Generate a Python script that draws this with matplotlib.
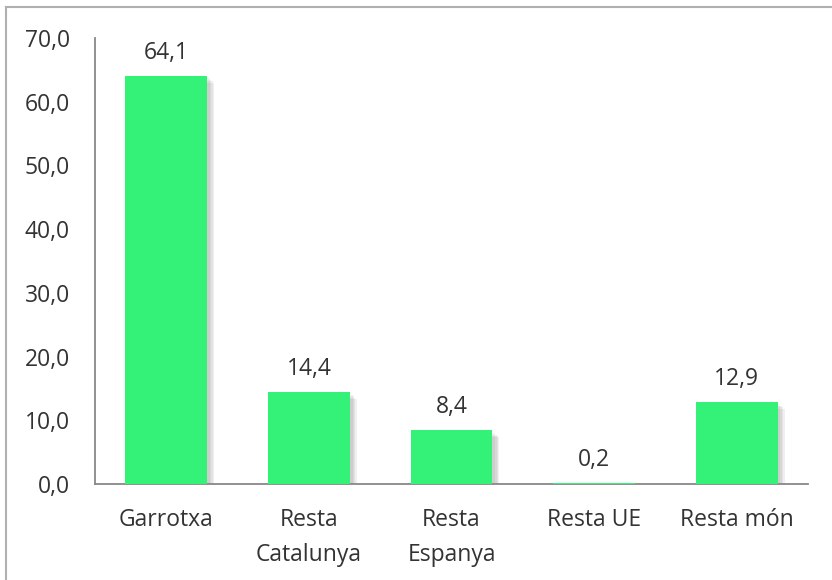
import matplotlib
matplotlib.use("Agg")
import matplotlib.pyplot as plt
from matplotlib.lines import Line2D
import matplotlib.patheffects as pe

categories = ["Garrotxa", "Resta\nCatalunya", "Resta\nEspanya", "Resta UE", "Resta món"]
values = [64.1, 14.4, 8.4, 0.2, 12.9]
yticks = [0, 10, 20, 30, 40, 50, 60, 70]

plt.rcParams['font.family'] = ['Open Sans', 'DejaVu Sans']
W, H = 832, 580
fig = plt.figure(figsize=(W/100, H/100), dpi=100)
ax = fig.add_axes([95/W, (H-484)/H, (808-95)/W, (484-38)/H])

FS = 16.5
x = list(range(len(categories)))
bars = ax.bar(x, values, width=0.575, color="#33F277", zorder=3)
shadow = [pe.SimplePatchShadow(offset=(d, -d), shadow_rgbFace="#888888", alpha=0.12)
          for d in (5, 4, 3, 2)]
for b in bars:
    b.set_path_effects(shadow + [pe.Normal()])
for xi, v in zip(x, values):
    ax.annotate(f"{v:.1f}".replace(".", ","), (xi, v), xytext=(0, 11),
                textcoords="offset pixels", ha="center", va="bottom",
                fontsize=FS, color="#333333")

ax.set_xlim(-0.5, len(categories) - 0.5)
ax.set_ylim(0, 70)
ax.set_yticks(yticks)
ax.set_yticklabels([f"{t:.1f}".replace(".", ",") for t in yticks])
ax.set_xticks(x)
ax.set_xticklabels(categories, linespacing=1.65)
ax.tick_params(axis="both", length=0, labelsize=FS, labelcolor="#333333")
ax.tick_params(axis="y", pad=18)
ax.tick_params(axis="x", pad=17)
for s in ["top", "right"]:
    ax.spines[s].set_visible(False)
for s in ["left", "bottom"]:
    ax.spines[s].set_color("#888888")
    ax.spines[s].set_linewidth(1.3)

# figure border (top and left visible)
fig.add_artist(Line2D([6/W, 1.0], [1 - 7/H, 1 - 7/H], color="#b0b0b0", lw=1.5, transform=fig.transFigure))
fig.add_artist(Line2D([6/W, 6/W], [0, 1 - 7/H], color="#b0b0b0", lw=1.5, transform=fig.transFigure))

fig.savefig("out.png", dpi=100)
